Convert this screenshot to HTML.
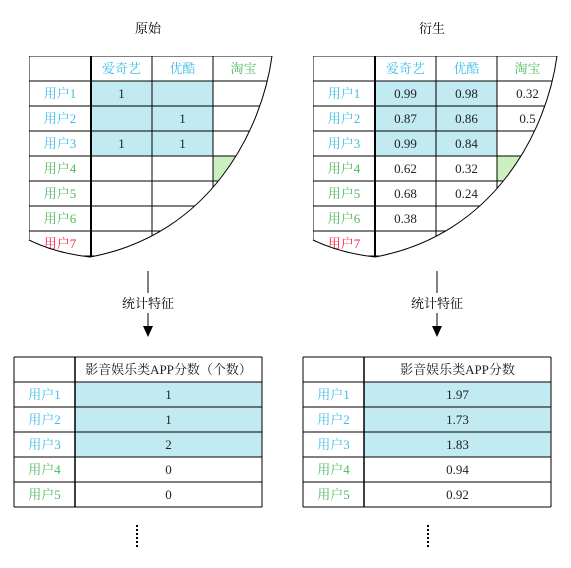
<!DOCTYPE html>
<html><head><meta charset="utf-8">
<style>
html,body{margin:0;padding:0;background:#fff;}
svg{display:block;}
text{font-family:"Liberation Serif","Noto Serif CJK SC",serif;font-size:13px;}
</style></head>
<body>
<svg id="s" width="571" height="568" viewBox="0 0 571 568" xmlns="http://www.w3.org/2000/svg">
<defs>
<clipPath id="clipL"><path d="M29,56 L272,56 C262,130 210,235 90,257 Q55,253 29,240 Z"/></clipPath>
<clipPath id="clipR"><path d="M313,56 L557,56 C547,130 495,235 375,257 Q340,253 313,240 Z"/></clipPath>
</defs>
<text x="148" y="33" text-anchor="middle">原始</text>
<text x="432" y="33" text-anchor="middle">衍生</text>
<g id="gL" clip-path="url(#clipL)"></g>
<g id="gR" clip-path="url(#clipR)"></g>
<path d="M272,56 C262,130 210,235 90,257 Q55,253 29,240" fill="none" stroke="#000" stroke-width="1"/>
<path d="M557,56 C547,130 495,235 375,257 Q340,253 313,240" fill="none" stroke="#000" stroke-width="1"/>
<g>
<line x1="148" y1="271" x2="148" y2="293" stroke="#000"/>
<line x1="148" y1="313" x2="148" y2="328" stroke="#000"/>
<polygon points="143,326 153,326 148,337" fill="#000"/>
<text x="148" y="308" text-anchor="middle">统计特征</text>
</g>
<g>
<line x1="437" y1="271" x2="437" y2="293" stroke="#000"/>
<line x1="437" y1="313" x2="437" y2="328" stroke="#000"/>
<polygon points="432,326 442,326 437,337" fill="#000"/>
<text x="437" y="308" text-anchor="middle">统计特征</text>
</g>
<g id="bL"></g>
<g id="bR"></g>
<line x1="137" y1="525" x2="137" y2="549" stroke="#000" stroke-width="2" stroke-dasharray="2,2"/>
<line x1="428" y1="525" x2="428" y2="549" stroke="#000" stroke-width="2" stroke-dasharray="2,2"/>
</svg>
<script>
const apps=["爱奇艺","优酷","淘宝"];
const appColors=["#3cbde8","#3cbde8","#4cbb5a"];
const users=["用户1","用户2","用户3","用户4","用户5","用户6","用户7"];
const userColors=["#3cbde8","#3cbde8","#3cbde8","#4cbb5a","#4cbb5a","#4cbb5a","#ff2040"];
const origVals=[["1","",""],["","1",""],["1","1",""],["","",""],["","",""],["","",""],["","",""]];
const derivVals=[["0.99","0.98","0.32"],["0.87","0.86","0.5"],["0.99","0.84",""],["0.62","0.32",""],["0.68","0.24",""],["0.38","",""],["","",""]];
const countVals=["1","1","2","0","0"];
const scoreVals=["1.97","1.73","1.83","0.94","0.92"];
const NS="http://www.w3.org/2000/svg";
function mk(p,tag,at){const e=document.createElementNS(NS,tag);for(const k in at)e.setAttribute(k,at[k]);p.appendChild(e);return e;}
function drawTop(g,x0,vals){
  const cw=[62,61,61,61],rh=25,y0=56;
  const xs=[x0];for(let i=0;i<4;i++)xs.push(xs[i]+cw[i]);
  for(let r=0;r<3;r++)for(let c=0;c<2;c++){
    const f=mk(g,"rect",{x:xs[c+1],y:y0+rh*(r+1),width:cw[c+1],height:rh,fill:"#c2eaf2"});
    
    
  }
  const gr=mk(g,"rect",{x:xs[3],y:y0+rh*4,width:cw[3],height:rh,fill:"#ccefc0"});
  
  
  for(let r=0;r<=8;r++)mk(g,"line",{x1:xs[0],x2:xs[4],y1:y0+rh*r,y2:y0+rh*r,stroke:"#000","stroke-width":1});
  for(let c=0;c<=4;c++)mk(g,"line",{x1:xs[c],x2:xs[c],y1:y0,y2:y0+rh*8,stroke:"#000","stroke-width":c==1?2:1});
  apps.forEach((a,i)=>{const t=mk(g,"text",{x:xs[i+1]+cw[i+1]/2,y:y0+17,"text-anchor":"middle",fill:appColors[i]});t.textContent=a;
    
    });
  users.forEach((u,r)=>{const t=mk(g,"text",{x:xs[0]+cw[0]/2,y:y0+rh*(r+1)+17,"text-anchor":"middle",fill:userColors[r]});t.textContent=u;
    
    
    vals[r].forEach((v,c)=>{if(!v)return;const tv=mk(g,"text",{x:xs[c+1]+cw[c+1]/2,y:y0+rh*(r+1)+17,"text-anchor":"middle",fill:"#222"});tv.textContent=v;
      
      });
  });
}
function drawBottom(g,x0,header,vals){
  const y0=357,rh=25,w0=61,W=248;
  for(let r=0;r<3;r++){const f=mk(g,"rect",{x:x0+w0,y:y0+rh*(r+1),width:W-w0,height:rh,fill:"#c2eaf2"});
    
    }
  for(let r=0;r<=6;r++)mk(g,"line",{x1:x0,x2:x0+W,y1:y0+rh*r,y2:y0+rh*r,stroke:"#000"});
  mk(g,"line",{x1:x0,x2:x0,y1:y0,y2:y0+rh*6,stroke:"#000"});
  mk(g,"line",{x1:x0+w0,x2:x0+w0,y1:y0,y2:y0+rh*6,stroke:"#000","stroke-width":1.5});
  mk(g,"line",{x1:x0+W,x2:x0+W,y1:y0,y2:y0+rh*6,stroke:"#000"});
  const h=mk(g,"text",{x:x0+w0+(W-w0)/2,y:y0+17,"text-anchor":"middle",fill:"#222"});h.textContent=header;
  
  
  vals.forEach((v,r)=>{
    const t=mk(g,"text",{x:x0+w0/2,y:y0+rh*(r+1)+17,"text-anchor":"middle",fill:userColors[r]});t.textContent=users[r];
    
    
    const tv=mk(g,"text",{x:x0+w0+(W-w0)/2,y:y0+rh*(r+1)+17,"text-anchor":"middle",fill:"#222"});tv.textContent=v;
    
    
  });
}
drawTop(document.getElementById("gL"),29,origVals);
drawTop(document.getElementById("gR"),313,derivVals);
drawBottom(document.getElementById("bL"),14,"影音娱乐类APP分数（个数）",countVals);
drawBottom(document.getElementById("bR"),303,"影音娱乐类APP分数",scoreVals);
</script>
</body></html>
